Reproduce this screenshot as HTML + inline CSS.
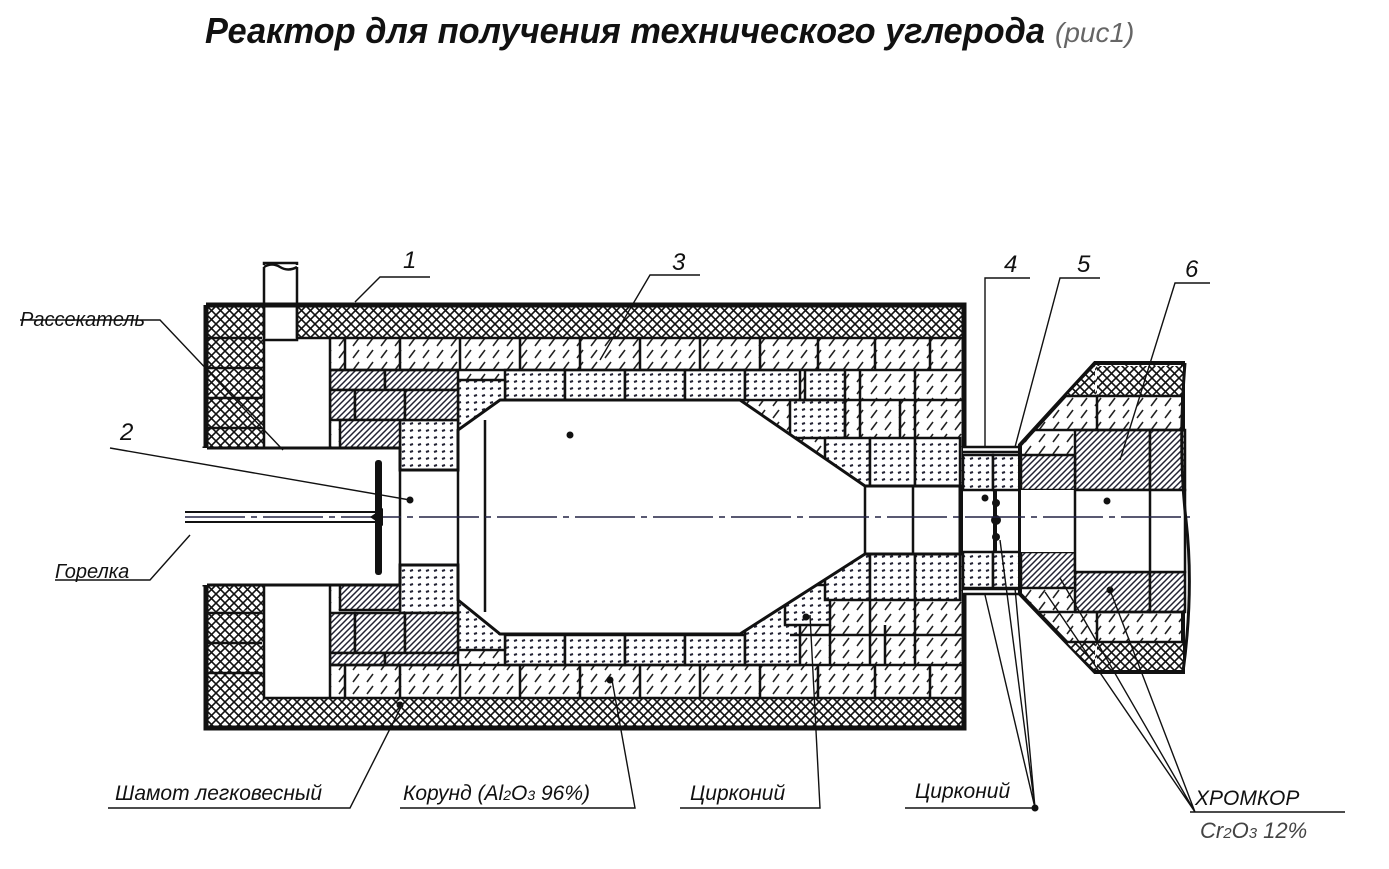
<!DOCTYPE html>
<html><head><meta charset="utf-8"><style>
html,body{margin:0;padding:0;background:#fff;}
svg{display:block;}
.t{font-family:"Liberation Sans","DejaVu Sans",sans-serif;font-style:italic;fill:#111;}
</style></head><body>
<svg width="1389" height="869" viewBox="0 0 1389 869" xmlns="http://www.w3.org/2000/svg">
<defs>
<pattern id="cross" width="9" height="9" patternUnits="userSpaceOnUse">
<rect width="9" height="9" fill="#fff"/>
<path d="M0 0L9 9M9 0L0 9M-1 8L1 10M8 -1L10 1" stroke="#111" stroke-width="1.6"/>
</pattern>
<pattern id="cor" width="14" height="12" patternUnits="userSpaceOnUse">
<rect width="14" height="12" fill="#fff"/>
<path d="M3 10L9 2" stroke="#222" stroke-width="1.6"/>
</pattern>
<pattern id="dense" width="6" height="6" patternUnits="userSpaceOnUse">
<rect width="6" height="6" fill="#fff"/>
<path d="M0 6L6 0M-1 1L1 -1M5 7L7 5" stroke="#223" stroke-width="1.5"/>
</pattern>
<pattern id="dot" width="8" height="7" patternUnits="userSpaceOnUse">
<rect width="8" height="7" fill="#fff"/>
<path d="M2 4L5 3" stroke="#223" stroke-width="2"/>
</pattern>
</defs>

<text class="t" x="205" y="43" font-size="36" font-weight="bold" textLength="840" lengthAdjust="spacingAndGlyphs">Реактор для получения технического углерода</text>
<text class="t" x="1055" y="42" font-size="28" style="fill:#666">(рис1)</text>

<rect x="206" y="305" width="758" height="423" fill="url(#cross)"/>
<rect x="330" y="338" width="632" height="360" fill="url(#cor)"/>
<g fill="url(#dot)" stroke="#111" stroke-width="2.5">
<rect x="505" y="370" width="60" height="30"/><rect x="565" y="370" width="60" height="30"/><rect x="625" y="370" width="60" height="30"/><rect x="685" y="370" width="60" height="30"/><rect x="745" y="370" width="55" height="30"/><rect x="805" y="370" width="40" height="30"/>
<rect x="790" y="400" width="55" height="38"/><rect x="825" y="438" width="45" height="50"/><rect x="870" y="438" width="45" height="50"/><rect x="915" y="438" width="45" height="50"/>
<rect x="505" y="635" width="60" height="30"/><rect x="565" y="635" width="60" height="30"/><rect x="625" y="635" width="60" height="30"/><rect x="685" y="635" width="60" height="30"/><rect x="745" y="600" width="55" height="65"/><rect x="785" y="585" width="45" height="40"/>
<rect x="825" y="550" width="45" height="50"/><rect x="870" y="550" width="45" height="50"/><rect x="915" y="550" width="45" height="50"/>
<rect x="458" y="380" width="47" height="50"/><rect x="458" y="600" width="47" height="50"/>
<rect x="400" y="420" width="58" height="50"/><rect x="400" y="565" width="58" height="48"/>
</g>
<g fill="url(#dense)" stroke="#111" stroke-width="2.5">
<rect x="330" y="370" width="55" height="20"/><rect x="385" y="370" width="73" height="20"/>
<rect x="330" y="390" width="25" height="30"/><rect x="355" y="390" width="50" height="30"/><rect x="405" y="390" width="53" height="30"/>
<rect x="340" y="420" width="60" height="28"/>
<rect x="340" y="585" width="60" height="25"/>
<rect x="330" y="613" width="25" height="40"/><rect x="355" y="613" width="50" height="40"/><rect x="405" y="613" width="53" height="40"/>
<rect x="330" y="653" width="55" height="12"/><rect x="385" y="653" width="73" height="12"/>
</g>
<g stroke="#111" stroke-width="2.5" fill="none">
<path d="M330 338H962M330 370H962M330 665H962M330 698H962M790 400H962M790 635H962"/>
<path d="M345 338V370M400 338V370M460 338V370M520 338V370M580 338V370M640 338V370M700 338V370M760 338V370M818 338V370M875 338V370M930 338V370"/>
<path d="M345 665V698M400 665V698M460 665V698M520 665V698M580 665V698M640 665V698M700 665V698M760 665V698M818 665V698M875 665V698M930 665V698"/>
<path d="M860 370V438M915 370V438M845 400V438M900 400V438 M870 600V665M915 600V665M830 625V665M885 625V665"/>
</g>
<g stroke="#111" stroke-width="2.5" fill="none">
<path d="M208 338H262M208 368H262M208 398H262M208 428H262M208 613H262M208 643H262M208 673H262"/>
</g>
<rect x="264" y="338" width="66" height="110" fill="#fff" stroke="#111" stroke-width="2.5"/>
<rect x="264" y="585" width="66" height="113" fill="#fff" stroke="#111" stroke-width="2.5"/>
<rect x="264" y="263" width="33" height="77" fill="#fff" stroke="#111" stroke-width="2.5"/>
<rect x="262" y="265" width="40" height="40" fill="#fff"/>
<path d="M264 338V267M297 338V267M264 267Q272 262 280 267T297 267" stroke="#111" stroke-width="2.5" fill="none"/>
<path d="M204 448H400V470H458V430L500 400H740L865 486H960V554H865L740 634H500L458 600V565H400V585H204Z" fill="#fff" stroke="#111" stroke-width="3"/>
<path d="M458 430V600M485 420V612M400 448V585M865 486V554M913 486V554" stroke="#111" stroke-width="2.5"/>
<path d="M206 305H964V728H206V585M206 448V305" fill="none" stroke="#111" stroke-width="5"/>
<path d="M204 448V585" stroke="#fff" stroke-width="6"/>

<rect x="963" y="447" width="58" height="147" fill="#fff"/>
<g fill="url(#dot)" stroke="#111" stroke-width="2.5">
<rect x="963" y="455" width="30" height="35"/><rect x="993" y="455" width="28" height="35"/>
<rect x="963" y="552" width="30" height="36"/><rect x="993" y="552" width="28" height="36"/>
</g>
<path d="M963 447H1021M963 452H1021M963 589H1021M963 594H1021" stroke="#111" stroke-width="2.5"/>
<path d="M1020 445L1095 363H1183V672H1095L1020 594Z" fill="url(#cor)" stroke="#111" stroke-width="4"/>
<rect x="1097" y="366" width="86" height="30" fill="url(#cross)"/>
<rect x="1097" y="642" width="86" height="28" fill="url(#cross)"/>
<path d="M1066 396L1095 366V396Z" fill="url(#cross)"/>
<path d="M1066 642L1095 670V642Z" fill="url(#cross)"/>
<g fill="url(#dense)" stroke="#111" stroke-width="2.5">
<rect x="1075" y="430" width="75" height="60"/><rect x="1150" y="430" width="35" height="60"/>
<rect x="1075" y="572" width="75" height="40"/><rect x="1150" y="572" width="35" height="40"/>
<rect x="1021" y="455" width="54" height="35"/><rect x="1021" y="552" width="54" height="36"/>
</g>
<rect x="1021" y="490" width="54" height="62" fill="#fff"/>
<rect x="1075" y="490" width="110" height="82" fill="#fff" stroke="#111" stroke-width="2.5"/>
<path d="M1150 490V572M1066 396H1185M1035 430H1185M1036 612H1185M1066 642H1185M1097 396V430M1097 612V642" stroke="#111" stroke-width="2.5"/>
<path d="M1185 363Q1178 450 1186 520T1183 672" fill="none" stroke="#111" stroke-width="3"/>
<path d="M995 490V552" stroke="#111" stroke-width="4"/>
<circle cx="996" cy="503" r="4" fill="#111"/><circle cx="996" cy="520" r="5" fill="#111"/><circle cx="996" cy="537" r="4" fill="#111"/>

<path d="M185 517H1190" stroke="#224" stroke-width="1.4" stroke-dasharray="60 6 6 6"/>
<path d="M185 512H380M185 522H380" stroke="#111" stroke-width="2"/>
<path d="M370 517L383 508V526Z" fill="#111"/>
<rect x="375" y="460" width="7" height="115" rx="3" fill="#111"/>

<g stroke="#111" stroke-width="1.4" fill="none">
<path d="M355 302L380 277H430"/><path d="M600 360L650 275H700"/>
<path d="M985 447V278H1030"/><path d="M1015 447L1060 278H1100"/><path d="M1120 460L1175 283H1210"/>
<path d="M110 448L410 500"/><path d="M20 320H160L283 450"/>
<path d="M55 580H150L190 535"/>
<path d="M108 808H350L402 705"/><path d="M400 808H635L612 680"/>
<path d="M680 808H820L810 615"/><path d="M905 808H1035L1000 540"/>
<path d="M1035 808L985 595M1035 808L1015 588"/>
<path d="M1190 812H1345M1195 812L1110 590M1195 812L1060 578M1195 812L1045 592"/>
</g>
<g fill="#111"><circle cx="410" cy="500" r="3.5"/><circle cx="570" cy="435" r="3.5"/><circle cx="400" cy="705" r="3.5"/><circle cx="610" cy="680" r="3.5"/><circle cx="806" cy="617" r="3.5"/><circle cx="1035" cy="808" r="3.5"/><circle cx="985" cy="498" r="3.5"/><circle cx="1107" cy="501" r="3.5"/><circle cx="1110" cy="590" r="3.5"/></g>

<text class="t" x="403" y="268" font-size="24">1</text>
<text class="t" x="672" y="270" font-size="24">3</text>
<text class="t" x="1004" y="272" font-size="24">4</text>
<text class="t" x="1077" y="272" font-size="24">5</text>
<text class="t" x="1185" y="277" font-size="24">6</text>
<text class="t" x="120" y="440" font-size="24">2</text>
<text class="t" x="20" y="326" font-size="20">Рассекатель</text>
<text class="t" x="55" y="578" font-size="20">Горелка</text>
<text class="t" x="115" y="800" font-size="21">Шамот легковесный</text>
<text class="t" x="403" y="800" font-size="21">Корунд (Al<tspan font-size="14">2</tspan>O<tspan font-size="14">3</tspan> 96%)</text>
<text class="t" x="690" y="800" font-size="21">Цирконий</text>
<text class="t" x="915" y="798" font-size="21">Цирконий</text>
<text class="t" x="1195" y="805" font-size="21">ХРОМКОР</text>
<text class="t" x="1200" y="838" font-size="22" style="fill:#444">Cr<tspan font-size="15">2</tspan>O<tspan font-size="15">3</tspan> 12%</text>
</svg>
</body></html>
